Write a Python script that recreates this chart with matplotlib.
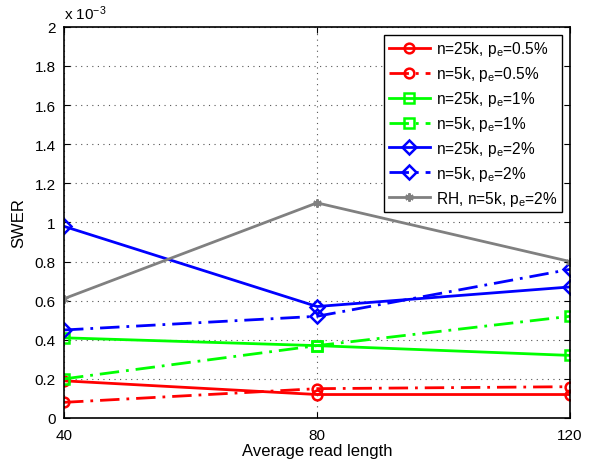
import matplotlib
matplotlib.use("Agg")
import matplotlib.pyplot as plt
from matplotlib.ticker import FuncFormatter

plt.rcParams['font.family'] = ['Liberation Sans', 'DejaVu Sans']
plt.rcParams['mathtext.fontset'] = 'custom'
plt.rcParams['mathtext.rm'] = 'Liberation Sans'
plt.rcParams['mathtext.it'] = 'Liberation Sans:italic'

read_length = [40, 80, 120]

# SWER values (x 1e-3)
red_25k = [0.19, 0.12, 0.12]
red_5k = [0.08, 0.15, 0.16]
green_25k = [0.41, 0.37, 0.32]
green_5k = [0.20, 0.37, 0.52]
blue_25k = [0.98, 0.57, 0.67]
blue_5k = [0.45, 0.52, 0.76]
rh_5k = [0.61, 1.10, 0.80]

labels = [
    'n=25k, p$_\\mathrm{e}$=0.5%',
    'n=5k, p$_\\mathrm{e}$=0.5%',
    'n=25k, p$_\\mathrm{e}$=1%',
    'n=5k, p$_\\mathrm{e}$=1%',
    'n=25k, p$_\\mathrm{e}$=2%',
    'n=5k, p$_\\mathrm{e}$=2%',
    'RH, n=5k, p$_\\mathrm{e}$=2%',
]

dashdot = (0, (7, 2.5, 1, 2.5))

def scale(vals):
    return [v * 1e-3 for v in vals]

fig = plt.figure(figsize=(5.9, 4.64), dpi=100)
ax = fig.add_axes([0.1085, 0.097, 0.8575, 0.843])

kw = dict(lw=2, ms=7, mew=1.8, mfc='none')
ax.plot(read_length, scale(red_25k), color='#ff0000', ls='-', marker='o', label=labels[0], **kw)
ax.plot(read_length, scale(red_5k), color='#ff0000', ls=dashdot, marker='o', label=labels[1], **kw)
ax.plot(read_length, scale(green_25k), color='#00ff00', ls='-', marker='s', label=labels[2], **kw)
ax.plot(read_length, scale(green_5k), color='#00ff00', ls=dashdot, marker='s', label=labels[3], **kw)
ax.plot(read_length, scale(blue_25k), color='#0000ff', ls='-', marker='D', label=labels[4], **kw)
ax.plot(read_length, scale(blue_5k), color='#0000ff', ls=dashdot, marker='D', label=labels[5], **kw)
ax.plot(read_length, scale(rh_5k), color='#808080', ls='-', marker=(6, 2, 0), lw=2, ms=6, mew=1.5,
        label=labels[6])

ax.set_xlim(40, 120)
ax.set_ylim(0, 2e-3)
ax.set_xticks(read_length)
ax.set_yticks([i * 0.2e-3 for i in range(11)])
ax.yaxis.set_major_formatter(FuncFormatter(lambda v, p: ('%.1f' % (v * 1e3)).rstrip('0').rstrip('.') if v else '0'))
ax.grid(True, ls=(0, (1, 4)), color='#555555', lw=0.8)
ax.tick_params(direction='in', top=True, right=True, labelsize=11, length=4)
ax.tick_params(axis='x', pad=7)
ax.tick_params(axis='y', pad=6)
for s in ax.spines.values():
    s.set_linewidth(1.2)

ax.text(0.0, 1.012, 'x 10$^{-3}$', transform=ax.transAxes, fontsize=11, ha='left', va='bottom')
ax.set_xlabel('Average read length', fontsize=12, labelpad=1)
ax.set_ylabel('SWER', fontsize=12, labelpad=6)

leg = ax.legend(loc='upper right', fontsize=11.2, fancybox=False, framealpha=1,
                edgecolor='black', handlelength=2.6, labelspacing=0.38, borderaxespad=0.5,
                handletextpad=0.4, borderpad=0.3)
leg.get_frame().set_linewidth(1.0)

fig.savefig('out.png', dpi=100)
